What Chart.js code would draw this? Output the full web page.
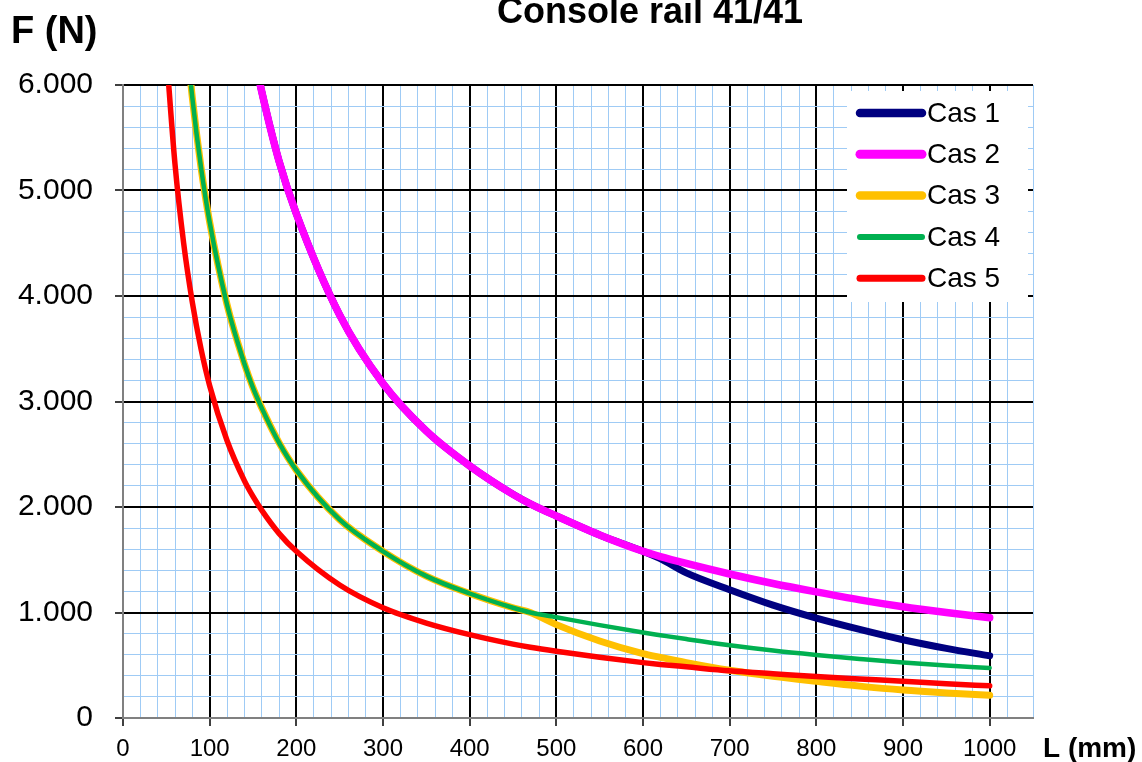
<!DOCTYPE html>
<html>
<head>
<meta charset="utf-8">
<title>Console rail 41/41</title>
<script src="https://cdn.jsdelivr.net/npm/chart.js@4.4.1/dist/chart.umd.min.js"></script>
<style>
  html, body { margin: 0; padding: 0; background: #ffffff; }
  #wrap { width: 1142px; height: 762px; }
</style>
</head>
<body>
<div id="wrap"><canvas id="myChart" width="1142" height="762"></canvas></div>
<script>
// L (mm) sample positions shared by all curves
const lengths = [50, 60, 70, 80, 90, 100, 120, 140, 150, 160, 180, 200, 250, 300, 350,
    400, 450, 470, 500, 550, 600, 620, 650, 700, 750, 800, 850, 900, 950, 1000];

// F (N), null where the curve is far above the top
const cas1 = [null, null, null, null, null, null, null, null, 6330, 5940, 5280, 4780, 3820, 3170, 2720,
    2390, 2120, 2030, 1915, 1735, 1580, 1510, 1375, 1216, 1070, 947, 840, 742, 660, 590];
const cas2 = [null, null, null, null, null, null, null, null, 6330, 5940, 5280, 4780, 3820, 3170, 2720,
    2390, 2120, 2030, 1915, 1735, 1580, 1530, 1465, 1365, 1275, 1195, 1120, 1055, 1000, 950];
const cas3 = [null, null, 6710, 5880, 5220, 4700, 3920, 3360, 3130, 2940, 2610, 2350, 1880, 1580, 1345,
    1180, 1045, 1000, 885, 730, 610, 575, 525, 452, 395, 347, 302, 265, 238, 216];
const cas4 = [null, null, 6710, 5880, 5220, 4700, 3920, 3360, 3130, 2940, 2610, 2350, 1880, 1580, 1345,
    1180, 1045, 1000, 955, 880, 810, 785, 748, 690, 640, 598, 560, 525, 497, 474];
const cas5 = [6300, 5250, 4500, 3940, 3500, 3150, 2630, 2250, 2100, 1970, 1750, 1580, 1260, 1045, 900,
    790, 700, 670, 632, 575, 525, 508, 485, 447, 420, 393, 370, 348, 325, 305];

const seriesNames = ['Cas 1', 'Cas 2', 'Cas 3', 'Cas 4', 'Cas 5'];
const seriesColours = ['#000080', '#ff00ff', '#ffc000', '#00b050', '#ff0000'];
const seriesWidths = [7, 7.5, 7, 4.5, 5.5];
const seriesOrder = [4, 3, 5, 2, 1]; // lower = drawn on top

const FONT = "'Liberation Sans', Arial, sans-serif";
const minorGrid = '#9fcbf5';

function toPoints(values) {
    return lengths.map((l, i) => ({x: l, y: values[i]}));
}

function formatForce(v) {
    if (v === 0) return '0';
    return Math.floor(v / 1000) + '.' + String(v % 1000).padStart(3, '0');
}

const textPlugin = {
    id: 'texts',
    afterDraw(chart) {
        const ctx = chart.ctx;
        ctx.save();
        ctx.fillStyle = '#000';
        ctx.textAlign = 'left';
        ctx.textBaseline = 'alphabetic';
        ctx.font = 'bold 36px ' + FONT;
        ctx.fillText('Console rail 41/41', 497, 23);
        ctx.font = 'bold 38px ' + FONT;
        ctx.fillText('F (N)', 11, 43);
        ctx.font = 'bold 28px ' + FONT;
        ctx.fillText('L (mm)', 1043, 757);
        ctx.restore();
    }
};

const legendPlugin = {
    id: 'boxLegend',
    afterDatasetsDraw(chart) {
        const ctx = chart.ctx;
        const area = chart.chartArea;
        ctx.save();
        ctx.fillStyle = '#ffffff';
        ctx.fillRect(847, area.top + 6, area.right - 5 - 847, 211);
        chart.data.datasets.forEach((ds, i) => {
            const y = 113 + i * 41.3;
            ctx.strokeStyle = ds.borderColor;
            ctx.lineWidth = ds.borderWidth + 1.5;
            ctx.lineCap = 'round';
            ctx.beginPath();
            ctx.moveTo(860, y);
            ctx.lineTo(922, y);
            ctx.stroke();
            ctx.fillStyle = '#000';
            ctx.font = '28px ' + FONT;
            ctx.textBaseline = 'middle';
            ctx.fillText(ds.label, 927, y + 1);
        });
        ctx.restore();
    }
};

const allSeries = [cas1, cas2, cas3, cas4, cas5];

const data = {
    datasets: allSeries.map((values, i) => ({
        label: seriesNames[i],
        data: toPoints(values),
        borderColor: seriesColours[i],
        backgroundColor: seriesColours[i],
        borderWidth: seriesWidths[i],
        borderCapStyle: 'round',
        borderJoinStyle: 'round',
        pointRadius: 0,
        cubicInterpolationMode: 'monotone',
        order: seriesOrder[i],
        clip: 0,
    }))
};

const myChart = new Chart(document.getElementById('myChart').getContext('2d'), {
    type: 'line',
    data: data,
    plugins: [legendPlugin, textPlugin],
    options: {
        responsive: false,
        devicePixelRatio: 1,
        animation: false,
        layout: {padding: {top: 85, right: 109, bottom: 0, left: 0}},
        plugins: {
            legend: {display: false},
            title: {display: false},
            tooltip: {enabled: false},
        },
        scales: {
            x: {
                type: 'linear',
                min: 0,
                max: 1050,
                afterFit: (scale) => { scale.height = 44; },
                ticks: {
                    stepSize: 20,
                    autoSkip: false,
                    maxRotation: 0,
                    padding: 9,
                    color: '#000',
                    font: {family: FONT, size: 24},
                    callback: (v) => (v % 100 === 0 && v <= 1000) ? String(v) : '',
                },
                grid: {
                    color: (c) => c.tick && c.tick.value % 100 === 0 ? '#000000' : minorGrid,
                    lineWidth: (c) => c.tick && c.tick.value % 100 === 0 ? 2 : 1,
                    tickColor: (c) => c.tick && c.tick.value % 100 === 0 && c.tick.value <= 1000 ? '#000000' : 'rgba(0,0,0,0)',
                    tickLength: 8,
                    tickWidth: 1.5,
                },
                border: {color: '#808080', width: 2},
            },
            y: {
                type: 'linear',
                min: 0,
                max: 6000,
                afterFit: (scale) => { scale.width = 123; },
                ticks: {
                    stepSize: 200,
                    autoSkip: false,
                    padding: 22,
                    color: '#000',
                    font: {family: FONT, size: 30},
                    callback: (v) => v % 1000 === 0 ? formatForce(v) : '',
                },
                grid: {
                    color: (c) => c.tick && c.tick.value % 1000 === 0 ? '#000000' : minorGrid,
                    lineWidth: (c) => c.tick && c.tick.value % 1000 === 0 ? 2 : 1,
                    tickColor: (c) => c.tick && c.tick.value % 1000 === 0 ? '#000000' : 'rgba(0,0,0,0)',
                    tickLength: 8,
                    tickWidth: 1.5,
                    z: -1,
                },
                border: {color: '#808080', width: 2},
            },
        },
    },
});
</script>
</body>
</html>
